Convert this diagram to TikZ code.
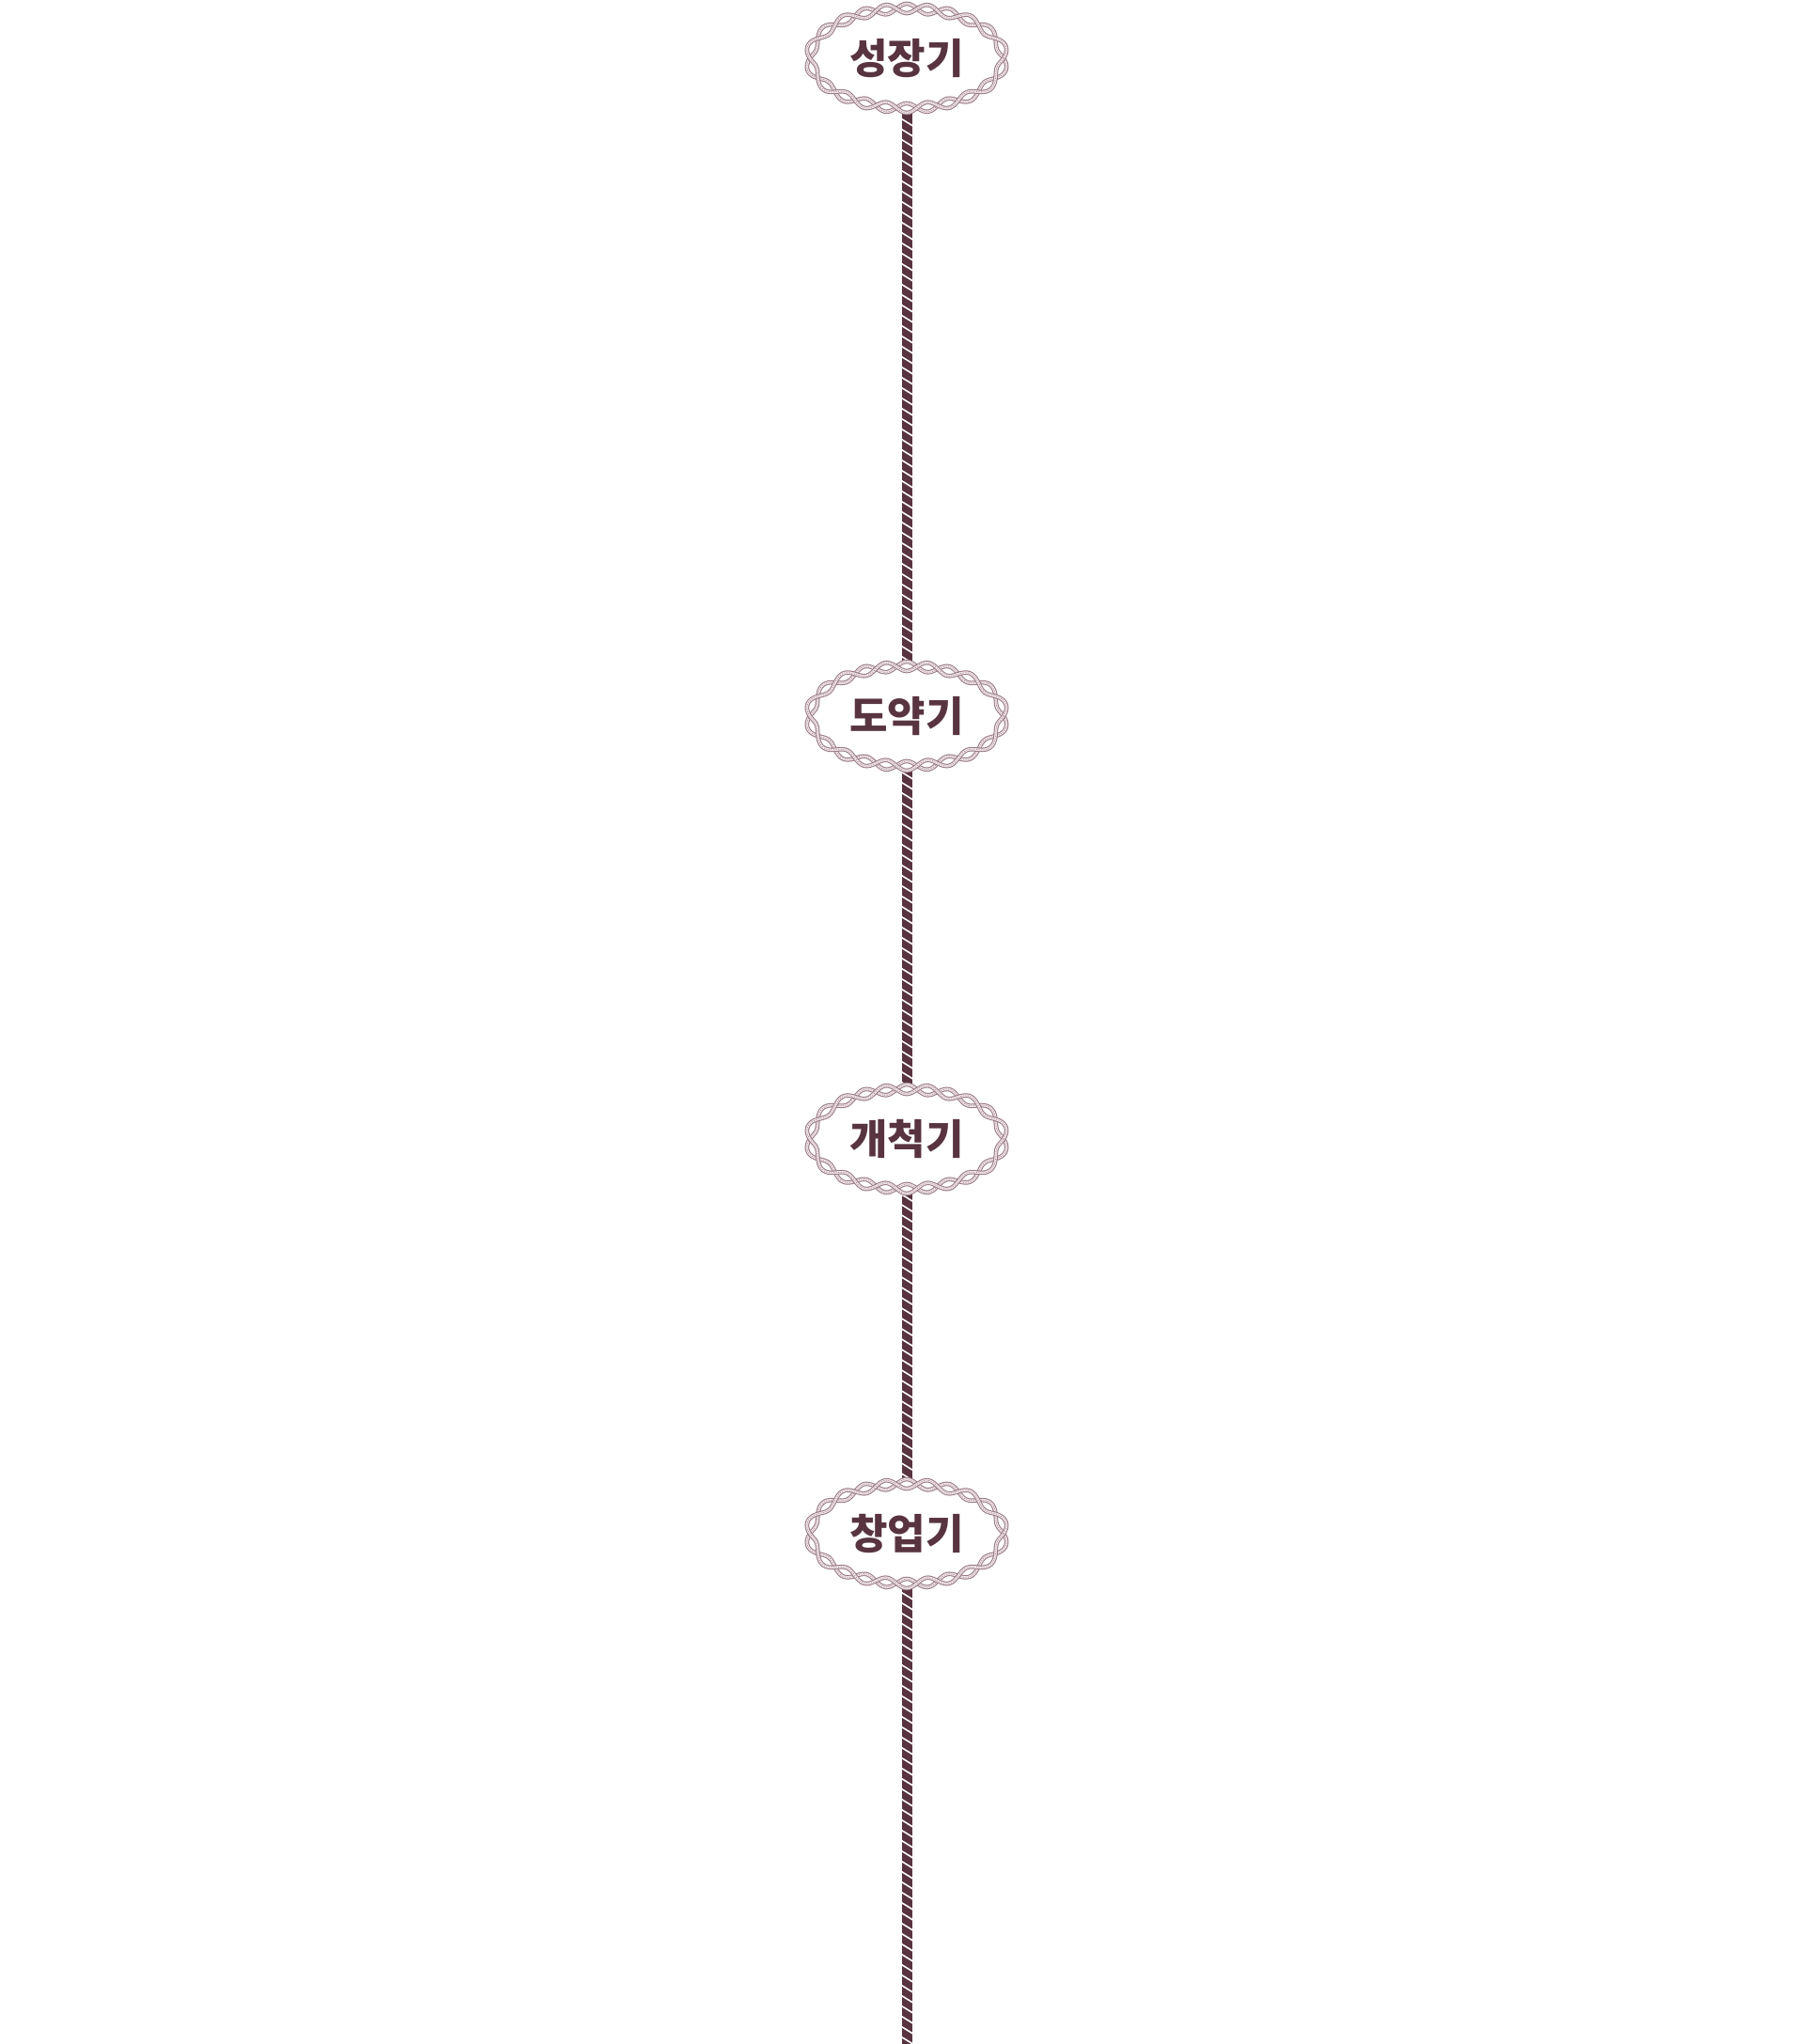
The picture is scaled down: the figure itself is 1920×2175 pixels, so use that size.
\documentclass[tikz,border=0pt]{standalone}
\usepackage{fontspec}
\newfontfamily\krfont{Noto Sans CJK KR}
\usetikzlibrary{shapes.geometric,decorations.markings}
\definecolor{ink}{RGB}{88,52,64}
\definecolor{braidline}{RGB}{150,118,130}
\definecolor{braidfill}{RGB}{238,228,231}
\tikzset{
  declare function={
    bn(\t)=sqrt((53*cos(\t))^2+(103*sin(\t))^2);
    bw(\t)=5*sin(11*(\t-9.68*sin(2*\t)));
  },
  stage/.style={shape=ellipse, minimum width=212pt, minimum height=112pt, inner sep=0pt,
    text=ink, font=\krfont\bfseries\fontsize{44}{48}\selectfont},
  rope/.style={draw=ink, line width=11pt,
    postaction={decorate, decoration={markings,
      mark=between positions 0.02 and 1 step 11pt with {\draw[white, line width=1.6pt] (-4pt,-6.5pt) -- (4pt,6.5pt);}}}},
}
% #1 node, #2 sign of the strand
\newcommand\strandpath[2]{%
  plot[domain=0:360, samples=400, smooth, variable=\t]
   ({#1+103*cos(\t)+(#2)*bw(\t)*53*cos(\t)/bn(\t)},
    {53*sin(\t)+(#2)*bw(\t)*103*sin(\t)/bn(\t)})}
\newcommand\braidring[1]{%
  \begin{scope}[shift={(#1.center)}]
  \foreach \sg in {1,-1}{%
    \draw[braidline, line width=4.6pt] \strandpath{0}{\sg};
    \draw[braidfill, line width=2.6pt] \strandpath{0}{\sg};
    \draw[braidline!85, line width=0.7pt, dash pattern=on 1pt off 1.6pt] \strandpath{0}{\sg};
  }
  \end{scope}}
\begin{document}
\begin{tikzpicture}[x=1pt,y=-1pt]
  \fill[white] (0,0) rectangle (1920,2175);
  \useasboundingbox (0,0) rectangle (1920,2175);
  \node[stage] (e1) at (965,62) {};
  \node[stage] (e2) at (965,762) {};
  \node[stage] (e3) at (965,1212) {};
  \node[stage] (e4) at (965,1632) {};
  \coordinate (bot) at (965,2175);
  \draw[rope] (e1.south) -- (e2.north);
  \draw[rope] (e2.south) -- (e3.north);
  \draw[rope] (e3.south) -- (e4.north);
  \draw[rope] (e4.south) -- (bot);
  \braidring{e1}
  \braidring{e2}
  \braidring{e3}
  \braidring{e4}
  \node[stage] (t1) at (e1.center) {성장기};
  \node[stage] (t2) at (e2.center) {도약기};
  \node[stage] (t3) at (e3.center) {개척기};
  \node[stage] (t4) at (e4.center) {창업기};
\end{tikzpicture}
\end{document}
